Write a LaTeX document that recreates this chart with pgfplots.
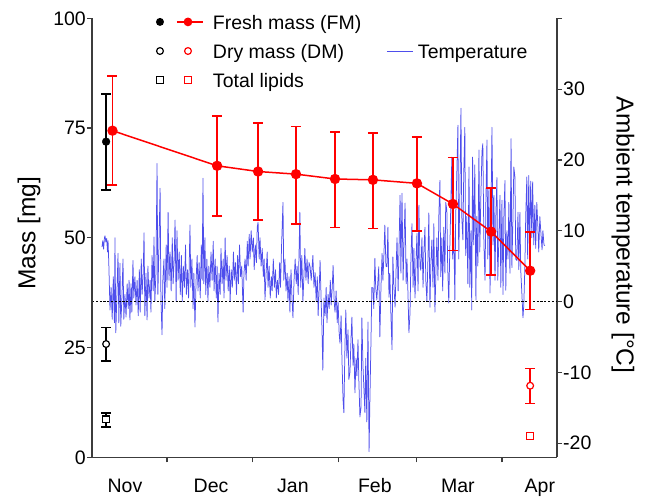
\documentclass[border=0pt]{standalone}
\usepackage{fontspec}
\setmainfont{Liberation Sans}
\usepackage{pgfplots}
\pgfplotsset{compat=1.18}
\definecolor{tblue}{RGB}{78,78,236}
\definecolor{axgray}{RGB}{60,60,60}
\newcommand{\tickfont}{\fontsize{19.5}{23}\selectfont}
\newcommand{\labfont}{\fontsize{24.5}{29}\selectfont}
\begin{document}
\begin{tikzpicture}
\useasboundingbox (0,0) rectangle (645pt,497pt);
% ---------- temperature axis (right) ----------
\begin{axis}[
  at={(92pt,39.7pt)}, anchor=south west, scale only axis,
  width=465pt, height=439pt,
  xmin=2.9, xmax=170.9, ymin=-22, ymax=40,
  axis x line=none, axis y line=right,
  axis line style={-, line width=1.2pt, axgray},
  tick align=outside, major tick length=5pt,
  tick style={line width=1.2pt, axgray},
  /pgf/number format/assume math mode=true,
  ytick={-20,-10,0,10,20,30,40},
  yticklabels={-20,-10,0,10,20,30,},
  tick label style={font=\tickfont},
  yticklabel style={inner sep=1pt},
  ylabel={Ambient temperature [°C]},
  ylabel style={font=\labfont, at={(axis description cs:1.142,0.506)}, anchor=center, rotate=180},
]
\addplot[tblue, line width=0.75pt, line join=round] coordinates {
(6.5,7.7)(6.8,8.6)(7.1,7.4)(7.4,9.0)(7.6,9.3)(7.9,8.4)(8.2,8.9)(8.5,7.0)(8.7,8.6)(9.0,5.0)
(9.4,-1.2)(9.8,2.0)(10.2,-2.5)(10.6,3.5)(11.0,-3.0)(11.2,9.0)(11.5,-4.4)(11.9,1.0)(12.3,6.8)(12.6,-3.0)
(13.0,5.4)(13.3,-3.5)(13.7,0.5)(14.1,6.0)(14.4,-2.5)(14.8,1.0)(15.2,-2.2)(15.6,2.5)(16.0,-1.0)(16.3,3.0)
(16.6,-2.6)(17.0,2.5)(17.3,-1.5)(17.7,5.8)(18.0,0.5)(18.4,3.5)(18.8,-0.5)(19.2,3.0)(19.6,-2.0)(20.0,4.5)
(20.3,-1.5)(20.7,6.0)(21.0,1.0)(21.4,4.0)(21.7,9.7)(22.0,-2.0)(22.4,4.0)(22.8,-2.6)(23.1,5.0)(23.5,0.5)
(23.9,3.0)(24.2,-1.5)(24.6,6.5)(25.0,1.5)(25.3,9.1)(25.6,0.0)(26.0,4.0)(26.4,19.5)(26.7,1.0)(27.1,8.0)
(27.5,16.0)(27.8,0.5)(28.2,-4.7)(28.5,3.0)(28.9,6.0)(29.2,-1.0)(29.7,8.0)
(30.0,2.0)(30.4,12.6)(30.7,3.0)(31.1,7.0)(31.5,1.5)(31.9,9.0)(32.2,2.5)(32.6,6.0)(32.9,11.5)(33.3,0.0)
(33.6,10.0)(34.0,3.0)(34.4,7.0)(34.8,1.0)(35.2,6.5)(35.5,0.0)(35.9,5.0)(36.3,2.0)(36.7,8.0)(37.0,1.0)
(37.4,4.5)(37.8,0.5)(38.3,10.8)(38.6,2.0)(39.0,6.0)(39.4,-1.0)(39.7,4.0)(40.1,-3.6)(40.5,3.0)(40.9,6.5)
(41.2,1.5)(41.6,5.5)(42.0,0.5)(42.4,8.0)(42.7,3.0)(43.0,17.4)(43.3,2.5)(43.7,9.0)(44.0,1.0)(44.4,6.0)
(44.8,0.0)(45.1,5.0)(45.5,2.0)(45.9,7.0)(46.3,3.0)(46.7,8.5)(47.0,1.5)(47.4,6.0)(47.8,0.5)(48.1,5.0)
(48.4,-2.9)(48.8,4.0)(49.2,1.0)(49.5,7.5)(49.9,2.5)(50.3,6.0)(50.6,0.5)(51.0,9.0)(51.3,3.0)(51.7,6.5)
(52.1,1.5)(52.5,5.0)(52.8,0.0)(53.2,4.5)(53.6,2.0)(54.0,7.0)(54.3,3.0)(54.7,5.5)(55.1,1.0)(55.5,6.5)
(55.8,2.5)(56.2,8.0)(56.6,3.5)(57.0,5.0)(57.5,-1.5)(57.8,4.0)(58.2,6.0)(58.6,3.0)(59.0,8.5)(59.3,5.0)
(59.7,9.5)(60.0,6.0)(60.4,10.0)(60.8,7.0)(61.2,9.0)(61.5,4.5)(61.9,8.0)(62.3,5.5)(62.6,10.5)(62.9,11.2)
(63.3,6.0)(63.6,9.0)(64.0,5.0)(64.4,7.5)(64.8,3.5)(65.1,6.0)(65.4,0.2)(65.8,4.0)(66.2,7.0)(66.5,2.0)
(66.9,5.0)(67.3,0.5)(67.7,3.5)(68.0,1.5)(68.4,6.0)(68.8,2.0)(69.2,4.5)(69.5,0.5)(69.9,3.0)(70.3,1.0)
(70.7,5.5)(71.0,2.0)(71.4,8.0)(71.9,14.0)(72.2,3.0)(72.6,6.0)(73.0,1.5)(73.4,4.0)(73.7,0.0)(74.1,3.5)
(74.4,-1.5)(74.8,4.5)(75.1,1.0)(75.5,-2.3)(75.9,3.0)(76.3,6.0)(76.7,2.5)(77.0,5.0)(77.4,1.0)(78.0,12.6)
(78.3,2.0)(78.7,6.5)(79.1,0.0)(79.5,4.0)(79.8,7.5)(80.2,3.0)(80.6,6.0)(81.0,2.5)(81.3,5.5)(81.7,4.9)
(82.1,3.0)(82.7,6.5)(83.1,2.0)(83.5,4.1)(83.9,0.0)(84.3,3.5)(84.6,-2.0)(85.0,2.0)(85.3,5.8)(85.7,0.0)
(86.0,-4.0)(86.3,-9.7)(86.7,0.5)(87.1,-2.0)(87.5,2.0)(87.8,-3.0)(88.2,1.0)(88.6,-1.0)(89.0,3.0)(89.3,-0.5)
(89.7,2.0)(90.0,5.1)(90.4,0.0)(90.7,-1.5)(91.1,1.5)(91.5,-3.0)(91.8,0.0)(92.2,-4.5)(92.5,-5.9)(92.9,-2.0)
(93.2,-8.0)(93.6,-13.9)(93.9,-15.7)(94.3,-6.0)(94.6,-1.2)(95.0,-8.0)(95.4,-4.0)(95.7,-11.0)(96.1,-10.0)(96.5,-5.0)
(96.8,-2.2)(97.2,-9.0)(97.5,-6.0)(97.9,-12.9)(98.3,-8.0)(98.6,-10.5)(99.0,-5.4)(99.3,-11.0)(99.7,-16.3)(100.1,-14.9)
(100.4,-2.3)(100.8,-9.0)(101.1,-12.0)(101.5,-15.7)(101.8,-8.0)(102.2,-17.0)(102.6,-2.9)(103.0,-21.2)(103.3,-14.0)(103.7,-5.4)
(104.0,2.0)(104.4,1.9)(104.7,-1.0)(105.1,6.1)(105.4,2.0)(105.8,0.2)(106.2,3.0)(106.5,4.9)(106.9,-5.0)(107.3,2.0)
(107.7,6.8)(108.0,3.0)(108.4,7.0)(108.7,10.8)(109.1,5.0)(109.5,4.9)(109.8,10.5)(110.2,0.6)(110.5,4.0)(110.9,-2.0)
(111.3,-6.8)(111.6,6.3)(112.0,2.0)(112.4,-0.8)(112.8,5.0)(113.1,9.0)(113.5,1.5)(113.8,7.0)(114.2,15.0)(114.5,4.0)
(114.9,15.3)(115.3,3.0)(115.6,8.0)(116.0,13.9)(116.4,2.5)(116.7,6.0)(117.1,0.5)(117.4,-4.4)(117.8,-1.6)(118.1,5.5)
(118.5,11.0)(118.9,2.0)(119.2,7.5)(119.6,0.5)(120.0,6.0)(120.3,9.6)(120.7,1.5)(121.0,13.6)(121.4,5.0)(121.7,4.4)
(122.1,9.0)(122.5,2.0)(122.8,7.0)(123.2,10.5)(123.5,3.0)(123.9,0.0)(124.3,6.5)(124.6,12.5)(125.0,-0.8)(125.3,5.0)
(125.7,8.7)(126.1,2.0)(126.4,11.0)(126.8,-1.5)(127.2,4.8)(127.5,9.0)(127.9,3.0)(128.2,12.0)(128.6,17.1)(128.9,3.5)
(129.3,9.0)(129.6,1.5)(130.0,10.5)(130.4,4.0)(130.7,14.0)(131.1,12.9)(131.4,5.0)(131.8,-0.2)(132.2,8.0)(132.5,13.0)
(132.9,20.4)(133.2,6.0)(133.6,10.0)(134.0,0.2)(134.3,12.0)(134.7,18.0)(135.1,24.9)(135.4,6.0)(135.8,15.0)(136.2,27.3)
(136.5,12.0)(136.9,8.7)(137.2,18.0)(137.6,24.6)(137.9,6.5)(138.3,12.0)(138.7,2.5)(139.1,19.0)(139.4,2.0)(139.8,10.0)
(140.1,-1.2)(140.4,20.4)(140.8,8.0)(141.2,19.3)(141.6,0.2)(141.9,12.0)(142.3,5.0)(142.7,21.4)(143.0,7.0)(143.4,15.0)
(143.8,21.2)(144.1,22.3)(144.5,8.0)(144.9,3.0)(145.2,14.0)(145.6,22.8)(145.9,6.0)(146.3,16.0)(146.7,1.2)(147.0,10.0)
(147.4,24.6)(147.8,8.0)(148.1,15.0)(148.5,3.0)(148.8,12.0)(149.2,17.5)(149.5,3.0)(149.9,9.0)(150.3,15.0)(150.6,2.0)
(151.0,14.3)(151.4,1.0)(151.7,12.0)(152.1,17.1)(152.4,1.6)(152.8,10.0)(153.2,6.0)(153.5,14.0)(153.9,4.0)(154.3,23.0)
(154.6,4.8)(155.0,12.0)(155.3,19.0)(155.7,17.6)(156.0,6.0)(156.4,5.8)(156.8,12.6)(157.1,4.5)(157.5,12.6)(157.8,4.4)
(158.2,1.2)(158.6,-2.3)(158.9,-0.5)(159.3,5.0)(159.6,12.0)(160.0,17.6)(160.3,6.0)(160.7,17.8)(161.0,7.0)(161.4,17.0)
(161.8,9.0)(162.1,16.9)(162.5,8.0)(162.9,13.6)(163.2,7.5)(163.6,14.0)(164.0,10.5)(164.3,7.0)(164.7,12.0)(165.1,9.6)
(165.5,7.3)(165.8,10.0)(166.2,8.0)(166.5,7.9)
};
\addplot[black, line width=0.8pt, dash pattern=on 2.2pt off 1.6pt] coordinates {(2.9,0)(170.9,0)};
\end{axis}
% ---------- mass axis (left) ----------
\begin{axis}[
  at={(92pt,39.7pt)}, anchor=south west, scale only axis,
  width=465pt, height=439pt,
  xmin=2.9, xmax=170.9, ymin=0, ymax=100,
  clip=false,
  axis x line=bottom, axis y line=left,
  axis line style={-, line width=1.2pt, axgray},
  tick align=outside, major tick length=5pt,
  tick style={line width=1.2pt, axgray},
  /pgf/number format/assume math mode=true,
  xtick={30,61,92,120,151}, xticklabels={},
  extra x ticks={14.8,45.9,75.5,105.1,135.1,164.7},
  extra x tick labels={Nov,Dec,Jan,Feb,Mar,Apr},
  extra x tick style={major tick length=0pt, xticklabel style={yshift=-18pt}},
  ytick={0,25,50,75,100},
  tick label style={font=\tickfont},
  yticklabel style={inner sep=1pt},
  ylabel={Mass [mg]},
  ylabel style={font=\labfont, at={(axis description cs:-0.1355,0.51)}, anchor=center},
  legend columns=2,
  legend style={at={(axis description cs:0.1333,1.0118)}, anchor=north west,
    draw=none, fill=none, inner sep=0pt, outer sep=0pt,
    column sep=0pt, row sep=11.5pt, font=\tickfont,
    nodes={inner sep=0pt}, cells={anchor=west}},
]
% legend entries
\addlegendimage{legend image code/.code={
  \path[draw=none, fill=none] (0pt,-6pt) rectangle (59pt,6pt);
  \fill[black, draw=none] (6pt,0pt) circle (4pt);
  \draw[red, line width=1.5pt] (23pt,0pt) -- (49pt,0pt);
  \fill[red, draw=none] (34pt,0pt) circle (4.4pt);}}
\addlegendentry{\strut Fresh mass (FM)}
\addlegendimage{empty legend}
\addlegendentry{}
\addlegendimage{legend image code/.code={
  \path[draw=none, fill=none] (0pt,-6pt) rectangle (59pt,6pt);
  \draw[black, fill=none, line width=1.2pt] (6pt,0pt) circle (3.4pt);
  \draw[red, fill=none, line width=1.2pt] (34pt,0pt) circle (3.4pt);}}
\addlegendentry{\strut Dry mass (DM)}
\addlegendimage{legend image code/.code={
  \path[draw=none, fill=none] (0pt,-6pt) rectangle (56.6pt,6pt);
  \draw[tblue, line width=0.8pt] (25.6pt,0pt) -- (51.6pt,0pt);}}
\addlegendentry{\strut Temperature}
\addlegendimage{legend image code/.code={
  \path[draw=none, fill=none] (0pt,-6pt) rectangle (59pt,6pt);
  \draw[black, fill=none, line width=1.2pt] (2.7pt,-3.3pt) rectangle (9.3pt,3.3pt);
  \draw[red, fill=none, line width=1.2pt] (30.7pt,-3.3pt) rectangle (37.3pt,3.3pt);}}
\addlegendentry{\strut Total lipids}
% data
\addplot[forget plot, red, line width=1.5pt, mark=*, mark size=4.4pt,
  mark options={solid, fill=red},
  error bars/.cd, y dir=both, y explicit,
  error bar style={line width=1.5pt, red},
  error mark options={rotate=90, mark size=5pt, line width=1.5pt, red}]
coordinates {
(10.3,74.4) += (0,12.4) -= (0,12.4)
(48.1,66.4) += (0,11.3) -= (0,11.4)
(62.9,65.1) += (0,11.1) -= (0,11.1)
(76.6,64.5) += (0,10.9) -= (0,11.4)
(90.7,63.4) += (0,10.7) -= (0,11.0)
(104.4,63.2) += (0,10.7) -= (0,11.1)
(120.3,62.4) += (0,10.6) -= (0,10.8)
(133.3,57.7) += (0,10.6) -= (0,10.6)
(147.1,51.4) += (0,9.9) -= (0,9.9)
(161.2,42.5) += (0,8.8) -= (0,8.8)
};
\addplot[forget plot, black, only marks, mark=*, mark size=3.9pt,
  error bars/.cd, y dir=both, y explicit,
  error bar style={line width=1.5pt, black},
  error mark options={rotate=90, mark size=5pt, line width=1.5pt, black}]
coordinates {(8.0,71.9) += (0,10.8) -= (0,11.0)};
\addplot[forget plot, black, only marks, mark=*, mark size=3.4pt,
  mark options={fill=white, line width=1.2pt},
  error bars/.cd, y dir=both, y explicit,
  error bar style={line width=1.5pt, black},
  error mark options={rotate=90, mark size=5pt, line width=1.5pt, black}]
coordinates {(8.0,25.8) += (0,3.8) -= (0,3.9)};
\addplot[forget plot, black, only marks, mark=square*, mark size=3.3pt,
  mark options={fill=white, line width=1.2pt},
  error bars/.cd, y dir=both, y explicit,
  error bar style={line width=1.5pt, black},
  error mark options={rotate=90, mark size=5pt, line width=1.5pt, black}]
coordinates {(8.0,8.65) += (0,1.4) -= (0,1.7)};
\addplot[forget plot, red, only marks, mark=*, mark size=3.4pt,
  mark options={fill=white, line width=1.2pt},
  error bars/.cd, y dir=both, y explicit,
  error bar style={line width=1.5pt, red},
  error mark options={rotate=90, mark size=5pt, line width=1.5pt, red}]
coordinates {(161.2,16.3) += (0,3.9) -= (0,4.0)};
\addplot[forget plot, red, only marks, mark=square*, mark size=3.3pt,
  mark options={fill=white, line width=1.2pt}]
coordinates {(161.2,4.85)};
\end{axis}
\end{tikzpicture}
\end{document}
